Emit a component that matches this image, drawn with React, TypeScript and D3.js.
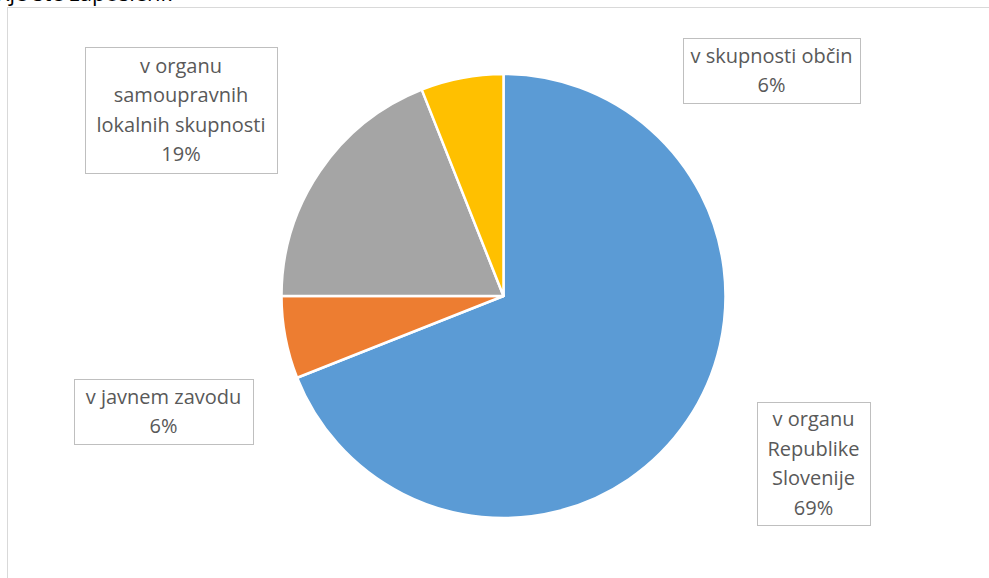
import React from "react";
import * as d3 from "d3";

const categories = [
  "v organu Republike Slovenije",
  "v javnem zavodu",
  "v organu samoupravnih lokalnih skupnosti",
  "v skupnosti občin",
];
const values = [69, 6, 19, 6];
const labelLines = [
  ["v organu", "Republike", "Slovenije", "69%"],
  ["v javnem zavodu", "6%"],
  ["v organu", "samoupravnih", "lokalnih skupnosti", "19%"],
  ["v skupnosti občin", "6%"],
];
const colors = ["#5B9BD5", "#ED7D31", "#A5A5A5", "#FFC000"];
const title = "Kje ste zaposleni?";

// label box layout: [left, top, right, bottom]
const boxes = [
  [757, 402, 870, 525],
  [74, 379, 253, 444],
  [85, 47, 277, 173],
  [683, 38, 860, 103],
];

const W = 989, H = 578;
const cx = 503.5, cy = 296, R = 222;
const lineH = 29.5;

export default function App() {
  const pie = d3.pie<number>().sort(null).value((d) => d);
  const arcs = pie(values);
  const arc = d3.arc<d3.PieArcDatum<number>>().innerRadius(0).outerRadius(R);
  return (
    <svg
      width={W}
      height={H}
      style={{ position: "absolute", left: 0, top: 0, background: "#fff" }}
    >
      <rect x={7.5} y={7.5} width={1100} height={700} fill="#fff" stroke="#d9d9d9" strokeWidth={1} />
      <text x={-4} y={0.5} fontFamily="Open Sans, sans-serif" fontSize={22} fill="#000">
        {title}
      </text>
      <g transform={`translate(${cx},${cy})`}>
        {arcs.map((a, i) => (
          <path key={categories[i]} d={arc(a) || ""} fill={colors[i]} stroke="#fff" strokeWidth={2.5} strokeLinejoin="round" />
        ))}
      </g>
      {boxes.map((b, i) => {
        const [l, t, r, btm] = b;
        const lines = labelLines[i];
        const mid = (t + btm) / 2;
        const first = mid - ((lines.length - 1) * lineH) / 2;
        return (
          <g key={i}>
            <rect x={l + 0.5} y={t + 0.5} width={r - l} height={btm - t} fill="#fff" stroke="#bfbfbf" strokeWidth={1} />
            {lines.map((s, j) => (
              <text
                key={j}
                x={(l + r) / 2}
                y={first + j * lineH}
                dy="0.35em"
                textAnchor="middle"
                fontFamily="Open Sans, sans-serif"
                fontSize={20}
                fill="#595959"
              >
                {s}
              </text>
            ))}
          </g>
        );
      })}
    </svg>
  );
}
